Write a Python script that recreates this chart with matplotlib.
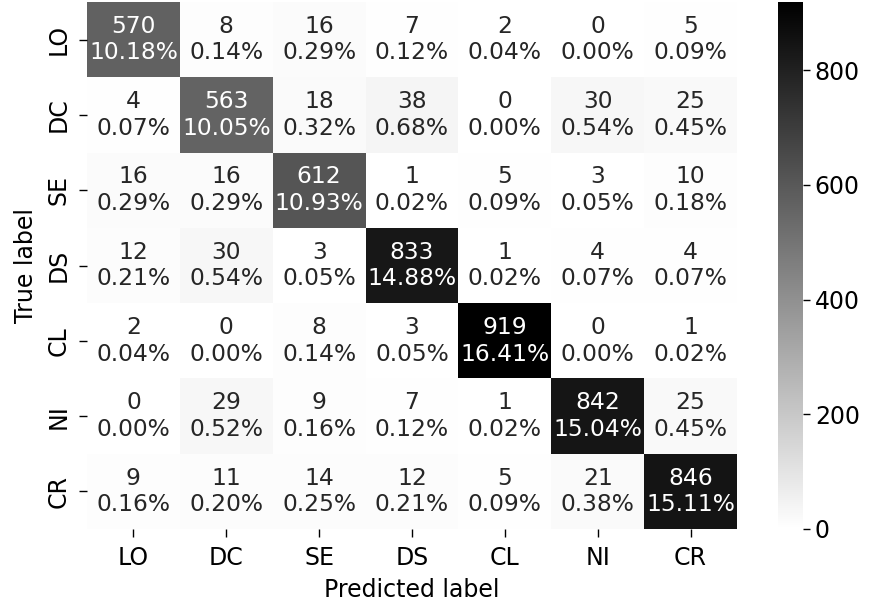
import numpy as np
import matplotlib
matplotlib.use("Agg")
import matplotlib.pyplot as plt
import seaborn as sns

labels = ["LO", "DC", "SE", "DS", "CL", "NI", "CR"]
row_LO = [570, 8, 16, 7, 2, 0, 5]
row_DC = [4, 563, 18, 38, 0, 30, 25]
row_SE = [16, 16, 612, 1, 5, 3, 10]
row_DS = [12, 30, 3, 833, 1, 4, 4]
row_CL = [2, 0, 8, 3, 919, 0, 1]
row_NI = [0, 29, 9, 7, 1, 842, 25]
row_CR = [9, 11, 14, 12, 5, 21, 846]

cm = np.array([row_LO, row_DC, row_SE, row_DS, row_CL, row_NI, row_CR])
total = cm.sum()
annot = np.array([[f"{v}\n{v/total:.2%}" for v in row] for row in cm])

plt.rcParams['font.family'] = ['DejaVu Sans']
plt.rcParams['text.color'] = '#262626'
fig = plt.figure(figsize=(8.7, 6.05), dpi=100)
W, H = 870, 605
ax = fig.add_axes([87 / W, (H - 529) / H, (737 - 87) / W, (529 - 2) / H])
cax = fig.add_axes([778 / W, (H - 529) / H, (803 - 778) / W, (529 - 2) / H])
sns.heatmap(cm, annot=annot, fmt="", cmap="binary", ax=ax, cbar_ax=cax,
            xticklabels=labels, yticklabels=labels,
            annot_kws={"fontsize": 16.8})
ax.set_xlabel("Predicted label", fontsize=17, color='black', labelpad=6)
ax.set_ylabel("True label", fontsize=17, color='black', labelpad=6)
ax.tick_params(axis='both', labelsize=17, length=6, width=1.0, pad=6,
               colors='black')
plt.setp(ax.get_yticklabels(), rotation=90, va='center')
cax.tick_params(labelsize=17, length=5, width=1.0, colors='black')
fig.savefig("out.png", dpi=100)
